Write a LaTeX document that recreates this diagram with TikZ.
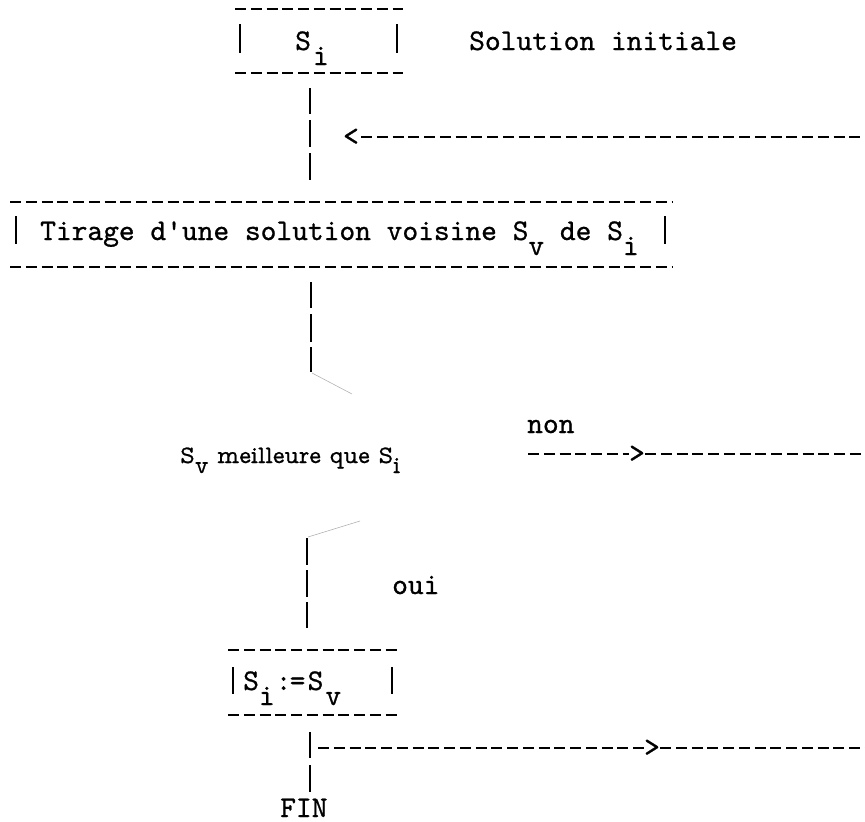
\documentclass[tikz,border=0pt]{standalone}
\usepackage{fontspec}
\newfontfamily\tw{lmmono10-regular.otf}[FakeBold=0.8]
\newfontfamily\twp{lmmonoprop10-regular.otf}[FakeBold=0.8]
\usetikzlibrary{calc}
\newcommand\lowr[1]{\raisebox{-15pt}{#1}}
\newcommand\lowrs[1]{\raisebox{-10pt}{#1}}
\tikzset{
  tt/.style={font=\tw\fontsize{30}{36}\selectfont, inner sep=0pt, anchor=base west},
  tts/.style={font=\twp\fontsize{25}{29}\selectfont, inner sep=0pt, anchor=base west},
  tip/.style={font=\tw\fontsize{30}{36}\selectfont, inner sep=0pt, anchor=center},
  hy/.style={line width=2.4pt, dash pattern=on 11pt off 4.75pt},
  bar/.style={line width=1.9pt},
  faint/.style={line width=0.6pt, black!30}
}
\begin{document}
\begin{tikzpicture}[x=1pt,y=-1pt]
\useasboundingbox (0,0) rectangle (865,822);
% ---- top box
\coordinate (b1tl) at (235,9);  \coordinate (b1tr) at (403,9);
\coordinate (b1bl) at (235,73); \coordinate (b1br) at (403,73);
\draw[hy] (b1tl) -- (b1tr);
\draw[hy] (b1bl) -- (b1br);
\draw[bar] (240,24) -- (240,53);
\draw[bar] (397,24) -- (397,53);
\node[tt] (si) at (295,50) {S\hspace{2pt}\lowr{i}};
\node[tt] (init) at (469,50) {Solution initiale};
% ---- vertical 1
\draw[bar] (310,88) -- (310,114);
\draw[bar] (310,120) -- (310,147);
\draw[bar] (310,153) -- (310,180);
% return arrow
\node[tip] (lt) at (351,137) {<};
\coordinate (retend) at (865,137);
\draw[hy] ([xshift=2pt]lt.east) -- (retend);
% ---- Tirage box
\coordinate (b2tl) at (10,202);  \coordinate (b2tr) at (673,202);
\coordinate (b2bl) at (10,267);  \coordinate (b2br) at (673,267);
\draw[hy] (b2tl) -- (b2tr);
\draw[hy] (b2bl) -- (b2br);
\draw[bar] (16,216) -- (16,244);
\draw[bar] (665,216) -- (665,244);
\node[tt] (tir) at (40,240) {Tirage d'une solution voisine S\lowr{v} de S\lowr{i}};
% ---- vertical 2
\draw[bar] (311,282) -- (311,308);
\draw[bar] (311,314) -- (311,342);
\draw[bar] (311,347) -- (311,372);
\draw[faint] (312,373) -- (352,394);
% ---- test
\node[tt] (non) at (527,433) {non};
\node[tts] (test) at (180,463) {S\lowrs{v} meilleure que S\lowrs{i}};
\node[tip] (gt1) at (637,454) {>};
\coordinate (n1) at (528,454); \coordinate (n2) at (865,454);
\draw[hy] (n1) -- (gt1.west);
\draw[hy] (gt1.east) -- (n2);
% ---- vertical 3
\draw[faint] (308,537) -- (360,521);
\draw[bar] (307,538) -- (307,565);
\draw[bar] (307,570) -- (307,597);
\draw[bar] (307,602) -- (307,628);
\node[tt] (oui) at (392,594) {oui};
% ---- bottom box
\coordinate (b3tl) at (228,650);  \coordinate (b3tr) at (397,650);
\coordinate (b3bl) at (228,715);  \coordinate (b3br) at (397,715);
\draw[hy] (b3tl) -- (b3tr);
\draw[hy] (b3bl) -- (b3br);
\draw[bar] (233,667) -- (233,694);
\draw[bar] (392,667) -- (392,694);
\node[tt] (assign) at (243,690) {S\lowr{i}\hspace{1pt}:\hspace{-1.75pt}=\hspace{2.25pt}S\hspace{2pt}\lowr{v}};
% ---- vertical 4 and exit
\draw[bar] (310,732) -- (310,758);
\draw[bar] (310,765) -- (310,792);
\node[tip] (gt2) at (652,748) {>};
\coordinate (e1) at (318,748); \coordinate (e2) at (865,748);
\draw[hy] (e1) -- (gt2.west);
\draw[hy] (gt2.east) -- (e2);
\node[tt] (fin) at (280,817) {FIN};
\end{tikzpicture}
\end{document}
